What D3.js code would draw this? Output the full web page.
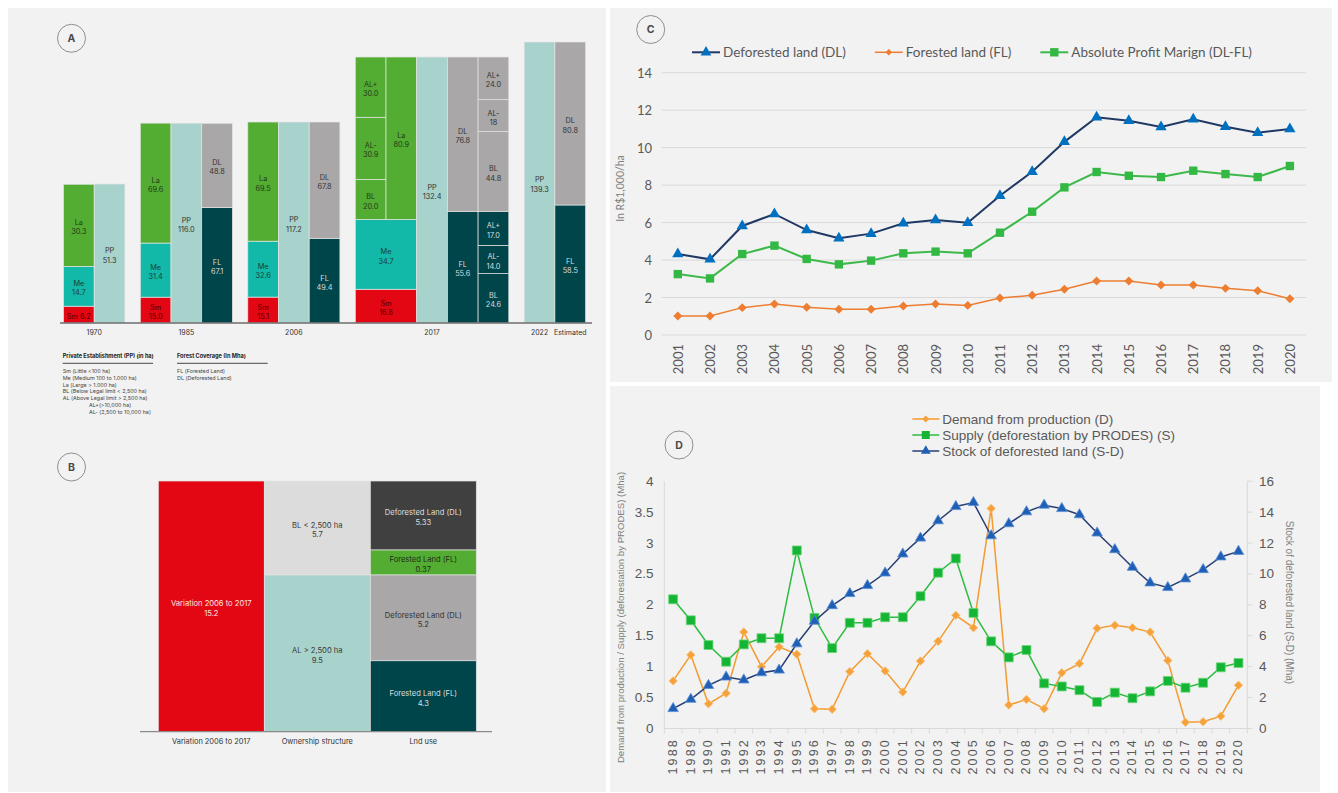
<!DOCTYPE html>
<html><head><meta charset="utf-8">
<script src="https://cdn.jsdelivr.net/npm/d3@7"></script>
<style>body{margin:0;background:#fff;} svg{display:block;}</style>
</head><body><script>
// ================= DATA =================
// Panel A
const aGroupLabels = [["1970"],["1985"],["2006"],["2017"],["2022","Estimated"]];
const aPP = [51.3, 116.0, 117.2, 132.4, 139.3];
const aSm = [6.2, 15.0, 15.1, 16.8, null];
const aMe = [14.7, 31.4, 32.6, 34.7, null];
const aLa = [30.3, 69.6, 69.5, 80.9, null];
const aFL = [null, 67.1, 49.4, 55.6, 58.5];
const aDL = [null, 48.8, 67.8, 76.8, 80.8];
const aSplitLabels = ["BL", "AL-", "AL+"];
const aLaSplit2017 = ["20.0", "30.9", "30.0"];
const aFLSplit2017 = ["24.6", "14.0", "17.0"];
const aDLSplit2017 = ["44.8", "18", "24.0"];
const aLegendPPTitle = "Private Establishment (PP) (in ha)";
const aLegendPP = ["Sm (Little <100 ha)", "Me (Medium 100 to 1.000 ha)", "La (Large > 1.000 ha)",
  "BL (Below Legal limit < 2,500 ha)", "AL (Above Legal limit > 2,500 ha)", "AL+(>10,000 ha)", "AL- (2,500 to 10,000 ha)"];
const aLegendFCTitle = "Forest Coverage (In Mha)";
const aLegendFC = ["FL (Forested Land)", "DL (Deforested Land)"];

// Panel B
const bColumns = ["Variation 2006 to 2017", "Ownership structure", "Lnd use"];
const bVariation = 15.2;
const bOwnerLabels = ["BL < 2,500 ha", "AL > 2,500 ha"];
const bOwnerValues = [5.7, 9.5];
const bUseLabels = ["Deforested Land (DL)", "Forested Land (FL)", "Deforested Land (DL)", "Forested Land (FL)"];
const bUseValues = ["5.33", "0.37", "5.2", "4.3"];
const bUseParent = [0, 0, 1, 1];

// Panel C
const cYears = ["2001","2002","2003","2004","2005","2006","2007","2008","2009","2010",
  "2011","2012","2013","2014","2015","2016","2017","2018","2019","2020"];
const cDL  = [4.32,4.04,5.82,6.46,5.60,5.16,5.41,5.96,6.14,5.99,7.43,8.71,10.31,11.62,11.44,11.10,11.51,11.12,10.80,10.99];
const cFL  = [1.01,1.01,1.46,1.65,1.48,1.37,1.37,1.55,1.65,1.58,1.97,2.12,2.44,2.88,2.88,2.67,2.67,2.49,2.36,1.94];
const cAPM = [3.25,3.02,4.32,4.77,4.06,3.77,3.97,4.36,4.45,4.36,5.46,6.58,7.88,8.70,8.50,8.43,8.77,8.59,8.43,9.02];
const cYTicks = [0,2,4,6,8,10,12,14];
const cSeriesNames = ["Deforested land (DL)", "Forested land (FL)", "Absolute Profit Marign (DL-FL)"];
const cYTitle = "In R$1,000/ha";

// Panel D
const dYears = ["1988","1989","1990","1991","1992","1993","1994","1995","1996","1997","1998","1999","2000",
  "2001","2002","2003","2004","2005","2006","2007","2008","2009","2010","2011","2012","2013","2014",
  "2015","2016","2017","2018","2019","2020"];
const dDemand = [0.77,1.19,0.40,0.57,1.56,1.00,1.32,1.20,0.32,0.31,0.92,1.21,0.93,0.59,1.09,1.41,1.83,1.63,3.56,
  0.38,0.47,0.32,0.90,1.05,1.62,1.67,1.63,1.56,1.10,0.10,0.11,0.20,0.70];
const dSupply = [2.09,1.75,1.35,1.08,1.36,1.46,1.46,2.88,1.79,1.30,1.71,1.71,1.80,1.80,2.14,2.52,2.75,1.87,1.41,
  1.15,1.27,0.73,0.68,0.62,0.43,0.58,0.49,0.60,0.77,0.66,0.74,0.99,1.06];
const dStock = [1.29,1.89,2.79,3.33,3.14,3.61,3.78,5.48,6.94,7.95,8.73,9.25,10.06,11.29,12.32,13.44,14.36,14.62,
  12.47,13.25,14.02,14.45,14.23,13.83,12.65,11.57,10.43,9.42,9.12,9.68,10.28,11.10,11.46];
const dLeftTicks = [0,0.5,1,1.5,2,2.5,3,3.5,4];
const dRightTicks = [0,2,4,6,8,10,12,14,16];
const dSeriesNames = ["Demand from production (D)", "Supply (deforestation by PRODES) (S)", "Stock of deforested land (S-D)"];
const dLeftTitle = "Demand from production / Supply (deforestation by PRODES) (Mha)";
const dRightTitle = "Stock of deforested land (S-D) (Mha)";

// ================= DRAW =================
const W = 1338, H = 793;
const svg = d3.select("body").append("svg").attr("width", W).attr("height", H);
const fA = "Inter, 'Noto Sans', sans-serif";
const fC = "Lato, 'Open Sans', sans-serif";
const fD = "'Liberation Sans', Arial, sans-serif";

// panel backgrounds
[[8,8,598,784],[610,8,722,374],[610,386,710,406]].forEach(p =>
  svg.append("rect").attr("x",p[0]).attr("y",p[1]).attr("width",p[2]).attr("height",p[3]).attr("fill","#f2f2f2"));

function badge(cx, cy, t) {
  svg.append("circle").attr("cx",cx).attr("cy",cy).attr("r",14).attr("fill","none").attr("stroke","#8f8f8f").attr("stroke-width",1);
  svg.append("text").attr("x",cx).attr("y",cy).attr("text-anchor","middle").attr("dominant-baseline","central")
    .attr("font-family", fA).attr("font-weight",700).attr("font-size",10.5).attr("fill","#4a4a4a").text(t);
}

// ---------- Panel A ----------
const C = {Sm:"#e30613", Me:"#12b9a9", La:"#53ad33", PP:"#a8d2cc", DL:"#a9a7a8", FL:"#00454a", DLd:"#404040", BLg:"#dcdcdc"};
const TX = {Sm:"#4a0000", Me:"#1d3b38", La:"#233a18", PP:"#333", DL:"#333", FL:"#dcdcdc"};
const gA = svg.append("g").attr("font-family", fA);
badge(71.5, 38.3, "A");
const aBase = 323;
const aHeight = d3.scaleLinear().domain([0, aPP[0], aPP[2], aPP[3], aPP[4]]).range([0, 139, 201, 266, 281]);
const colW = 30.7, gapW = 15.4;
const aCols = [2,3,3,5,2];
let xc = 63.5;
const aX = aCols.map(n => { const s = xc; xc += n*colW + gapW; return s; });

function seg(g, x, w, yTop, yBot, fill, lines, tc, fs) {
  g.append("rect").attr("x",x).attr("y",yTop).attr("width",w).attr("height",Math.max(0,yBot-yTop))
    .attr("fill",fill).attr("stroke","#e4e4e4").attr("stroke-width",0.7);
  const cy = (yTop+yBot)/2 + 2, lh = (fs||7.3)*1.27;
  const t = g.append("text").attr("text-anchor","middle").attr("font-size",fs||7.3).attr("fill",tc);
  lines.forEach((s,i) => t.append("tspan").attr("x",x+w/2).attr("y",cy+(i-(lines.length-1)/2)*lh)
    .attr("dominant-baseline","central").text(s));
}
const f1 = d3.format(".1f");

aPP.forEach((pp, g) => {
  const ys = d3.scaleLinear().domain([0, pp]).range([aBase, aBase - aHeight(pp)]);
  const x0 = aX[g];
  if (g < 4) {
    const stackW = g === 3 ? 2*colW : colW;
    let cum = 0;
    [["Sm", aSm[g]], ["Me", aMe[g]]].forEach(([k,v]) => {
      const y0 = ys(cum), y1 = ys(cum+v);
      const lines = (y0-y1) < 20 ? [k+" "+f1(v)] : [k, f1(v)];
      seg(gA, x0, stackW, y1, y0, C[k], lines, TX[k]);
      cum += v;
    });
    if (g === 3) {
      const laTotal = d3.sum(aLaSplit2017, d => +d);
      const sub = d3.scaleLinear().domain([0, laTotal]).range([ys(cum), ys(cum + aLa[g])]);
      let c2 = 0;
      aLaSplit2017.forEach((v,i) => { seg(gA, x0, colW, sub(c2 + +v), sub(c2), C.La, [aSplitLabels[i], v], TX.La); c2 += +v; });
      seg(gA, x0+colW, colW, ys(cum+aLa[g]), ys(cum), C.La, ["La", f1(aLa[g])], TX.La);
    } else {
      seg(gA, x0, colW, ys(cum+aLa[g]), ys(cum), C.La, ["La", f1(aLa[g])], TX.La);
    }
  }
  const ppCol = g === 4 ? 0 : (g === 3 ? 2 : 1);
  seg(gA, x0 + ppCol*colW, colW, ys(pp), ys(0), C.PP, ["PP", f1(pp)], TX.PP);
  if (aFL[g] != null) {
    const dc = ppCol + 1, xx = x0 + dc*colW;
    seg(gA, xx, colW, ys(aFL[g]), ys(0), C.FL, ["FL", f1(aFL[g])], TX.FL);
    seg(gA, xx, colW, ys(aFL[g]+aDL[g]), ys(aFL[g]), C.DL, ["DL", f1(aDL[g])], TX.DL);
    if (g === 3) {
      const xs = xx + colW;
      [[aFLSplit2017, 0, aFL[g], "FL"], [aDLSplit2017, aFL[g], aFL[g]+aDL[g], "DL"]].forEach(([arr, lo, hi, k]) => {
        const tot = d3.sum(arr, d => +d);
        const sub = d3.scaleLinear().domain([0, tot]).range([ys(lo), ys(hi)]);
        let c2 = 0;
        arr.forEach((v,i) => { seg(gA, xs, colW, sub(c2 + +v), sub(c2), C[k], [aSplitLabels[i], v], TX[k]); c2 += +v; });
      });
    }
  }
  // group labels
  const labs = aGroupLabels[g];
  if (labs.length === 1) {
    gA.append("text").attr("x", x0 + aCols[g]*colW/2).attr("y", 332).attr("text-anchor","middle")
      .attr("dominant-baseline","central").attr("font-size",7).attr("fill","#333").text(labs[0]);
  } else {
    labs.forEach((l,i) => gA.append("text").attr("x", x0 + (i+0.5)*colW).attr("y", 332).attr("text-anchor","middle")
      .attr("dominant-baseline","central").attr("font-size",7).attr("fill","#333").text(l));
  }
});
gA.append("line").attr("x1",60).attr("x2",592).attr("y1",aBase).attr("y2",aBase).attr("stroke","#6d6d6d").attr("stroke-width",1.3);

// legend under A
function legendBlock(x, title, items, underlineW) {
  gA.append("text").attr("x",x).attr("y",356).attr("dominant-baseline","central").attr("font-size",5.6)
    .attr("font-weight",700).attr("fill","#222").text(title);
  gA.append("line").attr("x1",x).attr("x2",x+underlineW).attr("y1",363.3).attr("y2",363.3).attr("stroke","#333").attr("stroke-width",0.9);
  items.forEach((s,i) => gA.append("text").attr("x", /^AL[+-]/.test(s) ? x+26.3 : x).attr("y", 370.7 + i*6.9)
    .attr("dominant-baseline","central").attr("font-size",5.4).attr("fill","#444").text(s));
}
legendBlock(62.7, aLegendPPTitle, aLegendPP, 90.3);
legendBlock(177, aLegendFCTitle, aLegendFC, 90.7);

// ---------- Panel B ----------
const gB = svg.append("g").attr("font-family", fA);
badge(71.5, 467, "B");
const xB = d3.scaleBand().domain(bColumns).range([158.3, 476.3]);
const yB = d3.scaleLinear().domain([0, bVariation]).range([731.7, 481]);
const bw = xB.bandwidth();
seg(gB, xB(bColumns[0]), bw, yB(bVariation), yB(0), C.Sm, [bColumns[0], f1(bVariation)], "#fde6e6", 7.6);
let ownerSpans = [], cumB = 0;
bOwnerValues.forEach((v,i) => {
  const top = yB(bVariation - cumB), bot = yB(bVariation - cumB - v);
  ownerSpans.push([top, bot]);
  seg(gB, xB(bColumns[1]), bw, top, bot, i === 0 ? C.BLg : C.PP, [bOwnerLabels[i], f1(v)], "#3a3a3a", 7.6);
  cumB += v;
});
const bUseFill = [C.DLd, C.La, C.DL, C.FL], bUseText = ["#dedede", "#1e2e15", "#333", "#dedede"];
bOwnerValues.forEach((pv, p) => {
  const idx = bUseParent.map((q,i) => q === p ? i : -1).filter(i => i >= 0);
  const [top, bot] = ownerSpans[p];
  const span = bot - top, minH = 25;
  const hs0 = idx.map(i => span * (+bUseValues[i]) / pv);
  const small = hs0.map(h => h < minH);
  const fixed = d3.sum(small.map(s => s ? minH : 0));
  const rest = d3.sum(hs0.filter((h,k) => !small[k]));
  const hs = hs0.map((h,k) => small[k] ? minH : h * (span - fixed) / rest);
  let y = top;
  idx.forEach((i,k) => {
    seg(gB, xB(bColumns[2]), bw, y, y + hs[k], bUseFill[i], [bUseLabels[i], bUseValues[i]], bUseText[i], 7.6);
    y += hs[k];
  });
});
gB.append("line").attr("x1",140).attr("x2",492).attr("y1",731.7).attr("y2",731.7).attr("stroke","#8a8a8a").attr("stroke-width",1.2);
bColumns.forEach(c => gB.append("text").attr("x", xB(c)+bw/2).attr("y",741).attr("text-anchor","middle")
  .attr("dominant-baseline","central").attr("font-size",7.4).attr("fill","#333").text(c));

// ---------- Panel C ----------
const gC = svg.append("g").attr("font-family", fC);
badge(650.7, 29.5, "C");
const xC = d3.scaleBand().domain(cYears).range([661.7, 1306]);
const yC = d3.scaleLinear().domain([0, 14]).range([335, 72.7]);
const px = y => xC(y) + xC.bandwidth()/2;
cYTicks.forEach(t => {
  gC.append("line").attr("x1",661.7).attr("x2",1306).attr("y1",yC(t)).attr("y2",yC(t)).attr("stroke","#d9d9d9").attr("stroke-width",1);
  gC.append("text").attr("x",652).attr("y",yC(t)).attr("text-anchor","end").attr("dominant-baseline","central")
    .attr("font-size",13).attr("fill","#595959").text(t);
});
cYears.forEach(y => gC.append("text").attr("transform",`translate(${px(y)},344) rotate(-90)`).attr("text-anchor","end")
  .attr("dominant-baseline","central").attr("font-size",13).attr("fill","#595959").text(y));
gC.append("text").attr("transform","translate(620,188.5) rotate(-90)").attr("text-anchor","middle").attr("dominant-baseline","central")
  .attr("font-size",10.5).attr("fill","#7f7f7f").text(cYTitle);

const sym = {
  tri: d3.symbol().type(d3.symbolTriangle),
  sq: d3.symbol().type(d3.symbolSquare),
};
function marker(g, type, x, y, size, fill, stroke) {
  if (type === "dia") {
    g.append("path").attr("d", d3.symbol().type(d3.symbolSquare).size(size)()).attr("transform",`translate(${x},${y}) rotate(45)`)
      .attr("fill",fill).attr("stroke",stroke||"none").attr("stroke-width",0.8);
  } else {
    g.append("path").attr("d", sym[type].size(size)()).attr("transform",`translate(${x},${y})`)
      .attr("fill",fill).attr("stroke",stroke||"none").attr("stroke-width",0.8);
  }
}
const cSeries = [
  {vals: cFL, line:"#ed7d31", lw:1.5, m:"dia", ms:40, mf:"#ed7d31"},
  {vals: cAPM, line:"#3cb94a", lw:2, m:"sq", ms:70, mf:"#33b843"},
  {vals: cDL, line:"#1f3864", lw:2, m:"tri", ms:55, mf:"#0070c0"},
];
cSeries.forEach(s => {
  gC.append("path").datum(s.vals).attr("fill","none").attr("stroke",s.line).attr("stroke-width",s.lw)
    .attr("d", d3.line().x((d,i) => px(cYears[i])).y(d => yC(d)));
  s.vals.forEach((v,i) => marker(gC, s.m, px(cYears[i]), yC(v), s.ms, s.mf));
});
// legend C
const cLeg = [
  {name: cSeriesNames[0], line:"#1f3864", m:"tri", ms:50, mf:"#0070c0", lw:2},
  {name: cSeriesNames[1], line:"#ed7d31", m:"dia", ms:22, mf:"#ed7d31", lw:1.5},
  {name: cSeriesNames[2], line:"#3cb94a", m:"sq", ms:70, mf:"#33b843", lw:2},
];
let lx = 692;
cLeg.forEach(l => {
  gC.append("line").attr("x1",lx).attr("x2",lx+28).attr("y1",52.3).attr("y2",52.3).attr("stroke",l.line).attr("stroke-width",l.lw);
  marker(gC, l.m, lx+14, 52.3, l.ms, l.mf);
  const t = gC.append("text").attr("x",lx+31).attr("y",52.3).attr("dominant-baseline","central").attr("font-size",13.5)
    .attr("fill","#595959").text(l.name);
  lx += 31 + t.node().getComputedTextLength() + 29;
});

// ---------- Panel D ----------
const gD = svg.append("g").attr("font-family", fD);
badge(679, 445, "D");
const xD = d3.scaleBand().domain(dYears).range([664.3, 1247.3]);
const yL = d3.scaleLinear().domain([0, 4]).range([728.5, 481.2]);
const yR = d3.scaleLinear().domain([0, 16]).range([728.5, 481.2]);
const pxD = y => xD(y) + xD.bandwidth()/2;
const axCol = "#d9d9d9";
gD.append("line").attr("x1",664.3).attr("x2",664.3).attr("y1",481.2).attr("y2",728.5).attr("stroke",axCol);
gD.append("line").attr("x1",1247.3).attr("x2",1247.3).attr("y1",481.2).attr("y2",728.5).attr("stroke",axCol);
gD.append("line").attr("x1",664.3).attr("x2",1247.3).attr("y1",728.5).attr("y2",728.5).attr("stroke",axCol);
dYears.forEach((y,i) => {
  gD.append("line").attr("x1",xD(y)+xD.bandwidth()).attr("x2",xD(y)+xD.bandwidth()).attr("y1",728.5).attr("y2",733.5).attr("stroke",axCol);
  gD.append("text").attr("transform",`translate(${pxD(y)},738) rotate(-90)`).attr("text-anchor","end")
    .attr("dominant-baseline","central").attr("font-size",12.5).attr("letter-spacing",2.2).attr("fill","#595959").text(y);
});
gD.append("line").attr("x1",664.3).attr("x2",664.3).attr("y1",728.5).attr("y2",733.5).attr("stroke",axCol);
dLeftTicks.forEach(t => gD.append("text").attr("x",653.5).attr("y",yL(t)).attr("text-anchor","end").attr("dominant-baseline","central")
  .attr("font-size",13.5).attr("fill","#595959").text(t));
dRightTicks.forEach(t => {
  gD.append("line").attr("x1",1247.3).attr("x2",1252.3).attr("y1",yR(t)).attr("y2",yR(t)).attr("stroke",axCol);
  gD.append("text").attr("x",1259).attr("y",yR(t)).attr("dominant-baseline","central")
    .attr("font-size",13.5).attr("fill","#595959").text(t);
});
gD.append("text").attr("transform","translate(620,617.5) rotate(-90)").attr("text-anchor","middle").attr("dominant-baseline","central")
  .attr("font-size",9.6).attr("fill","#808080").text(dLeftTitle);
gD.append("text").attr("transform","translate(1289.5,602.5) rotate(90)").attr("text-anchor","middle").attr("dominant-baseline","central")
  .attr("font-size",10).attr("fill","#808080").text(dRightTitle);

const dSeries = [
  {vals: dDemand, y: yL, line:"#f39b30", lw:1.5, m:"dia", ms:36, mf:"#f5a23d", ms2:"#f8c27a"},
  {vals: dSupply, y: yL, line:"#2cbc40", lw:1.5, m:"sq", ms:80, mf:"#14b534", ms2:"#6cd67a"},
  {vals: dStock, y: yR, line:"#283f73", lw:1.5, m:"tri", ms:48, mf:"#1f5fb5", ms2:"#5a8fd6"},
];
dSeries.forEach(s => {
  gD.append("path").datum(s.vals).attr("fill","none").attr("stroke",s.line).attr("stroke-width",s.lw)
    .attr("d", d3.line().x((d,i) => pxD(dYears[i])).y(d => s.y(d)));
  s.vals.forEach((v,i) => marker(gD, s.m, pxD(dYears[i]), s.y(v), s.ms, s.mf, s.ms2));
});
// legend D
dSeries.forEach((s,i) => {
  const ly = 419 + i*16;
  gD.append("line").attr("x1",912.3).attr("x2",939.3).attr("y1",ly).attr("y2",ly).attr("stroke",s.line).attr("stroke-width",1.5);
  marker(gD, s.m, 925.8, ly, s.m === "sq" ? 64 : (s.m === "dia" ? 26 : 42), s.mf);
  gD.append("text").attr("x",942.3).attr("y",ly).attr("dominant-baseline","central").attr("font-size",13.5)
    .attr("fill","#595959").text(dSeriesNames[i]);
});
</script></body></html>
